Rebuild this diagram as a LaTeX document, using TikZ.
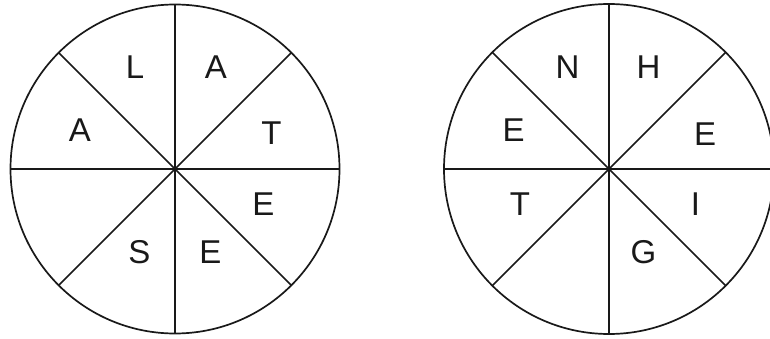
\documentclass[tikz,border=0pt]{standalone}
\usepackage{fontspec}
\setmainfont{Liberation Sans}
\begin{document}
\begin{tikzpicture}[x=1pt,y=-1pt,
  wheel/.style={line width=1.7pt,draw=black!90},
  letter/.style={font=\fontsize{33}{33}\selectfont,text=black!90,inner sep=0pt,anchor=center}]
\clip (0,0) rectangle (770,339);
\useasboundingbox (0,0) rectangle (770,339);
% left wheel
\coordinate (L) at (175,169);
\draw[wheel] (L) circle[radius=164.5];
\foreach \a in {0,45,...,315}{\draw[wheel] (L) -- ++({164.5*cos(\a)},{164.5*sin(\a)});}
% right wheel
\coordinate (R) at (609,169);
\draw[wheel] (R) circle[radius=165];
\foreach \a in {0,45,...,315}{\draw[wheel] (R) -- ++({165*cos(\a)},{165*sin(\a)});}
% left letters
\node[letter] (l1) at (135,67) {L};
\node[letter] (l2) at (216,67) {A};
\node[letter] (l3) at (80,130) {A};
\node[letter] (l4) at (271.5,133) {T};
\node[letter] (l5) at (263.5,204) {E};
\node[letter] (l6) at (210.5,252) {E};
\node[letter] (l7) at (139.5,252) {S};
% right letters
\node[letter] (r1) at (567.5,67) {N};
\node[letter] (r2) at (648.5,67) {H};
\node[letter] (r3) at (513.5,130) {E};
\node[letter] (r4) at (705,134) {E};
\node[letter] (r5) at (520,204) {T};
\node[letter] (r6) at (695.5,204) {I};
\node[letter] (r7) at (643.5,252) {G};
\end{tikzpicture}
\end{document}
